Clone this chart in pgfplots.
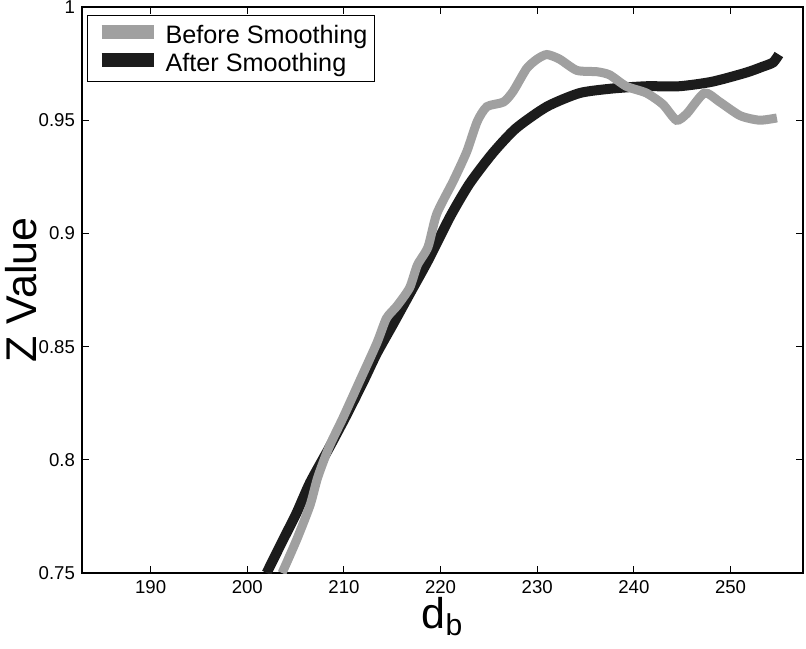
\documentclass[border=0pt]{standalone}
\usepackage{fontspec}
\setmainfont{Liberation Sans}
\usepackage{pgfplots}
\pgfplotsset{compat=1.18}
\definecolor{beforegray}{RGB}{160,160,160}
\definecolor{afterblack}{RGB}{28,28,28}

\begin{document}
\begin{tikzpicture}
\useasboundingbox (-41pt,-37.5pt) rectangle (362pt,286.5pt);
\begin{axis}[
    scale only axis,
    width=360.5pt, height=283pt,
    xmin=182.9, xmax=257.5,
    ymin=0.75, ymax=1,
    xtick={190,200,...,250},
    ytick={0.75,0.8,0.85,0.9,0.95,1},
    /pgf/number format/assume math mode=true,
    tick label style={font=\fontsize{9.3}{11}\selectfont},
    major tick length=3.5pt,
    tick style={black, line width=0.5pt},
    axis line style={line width=0.7pt},
    xlabel={d\textsubscript{b}},
    ylabel={Z Value},
    label style={font=\fontsize{21.5}{24}\selectfont},
    xlabel style={at={(axis description cs:0.5,0)}, anchor=base, yshift=-27.5pt},
    ylabel style={at={(axis description cs:0,0.5)}, anchor=base, yshift=22.5pt},
    reverse legend,
    legend style={at={(rel axis cs:0,1)}, anchor=north west, xshift=2.5pt, yshift=-4pt,
        draw=black, line width=0.6pt, inner xsep=3.5pt, inner ysep=2.5pt,
        font=\fontsize{12.6}{14}\selectfont, column sep=2.5pt, row sep=0pt,
        nodes={inner sep=0pt, text height=11.5pt, text depth=2.5pt}},
    legend cell align=left,
    legend image code/.code={
        \draw[#1, line width=7pt] (3pt,1.5pt) -- (29pt,1.5pt);
    },
]
\addplot[color=afterblack, line width=5pt, smooth, tension=0.4] coordinates {
    (202.0,0.750) (203.7,0.7646) (205.1,0.7765) (206.5,0.790) (208.5,0.8055)
    (210.3,0.820) (212.0,0.8345) (213.4,0.847) (215.1,0.860) (216.9,0.874)
    (218.7,0.888) (221.0,0.9075) (223.0,0.922) (225.4,0.9355) (227.8,0.9464)
    (231.0,0.956) (234.4,0.962) (237.8,0.964) (241.3,0.965) (244.7,0.965)
    (248.1,0.967) (251.6,0.971) (253.3,0.9736) (254.4,0.9755) (255.0,0.979)
};
\addlegendentry{After Smoothing}
\addplot[color=beforegray, line width=4.5pt, smooth, tension=0.4] coordinates {
    (203.6,0.750) (205.1,0.7646) (206.5,0.780) (207.3,0.7924) (208.5,0.806)
    (209.9,0.8185) (211.6,0.8345) (213.4,0.8515) (214.4,0.8625) (215.5,0.868)
    (216.8,0.876) (217.6,0.886) (218.7,0.894) (219.6,0.9086) (221.3,0.923)
    (222.7,0.936) (223.8,0.9495) (224.8,0.956) (226.5,0.958) (227.5,0.9627)
    (228.9,0.9728) (230.0,0.977) (231.0,0.979) (232.3,0.977) (234.1,0.972)
    (236.2,0.9714) (237.5,0.970) (239.2,0.965) (241.3,0.962) (243.0,0.957)
    (244.4,0.950) (245.5,0.953) (247.3,0.962) (248.9,0.958) (251.0,0.952)
    (253.0,0.950) (254.8,0.951)
};
\addlegendentry{Before Smoothing}
\end{axis}
\end{tikzpicture}
\end{document}
